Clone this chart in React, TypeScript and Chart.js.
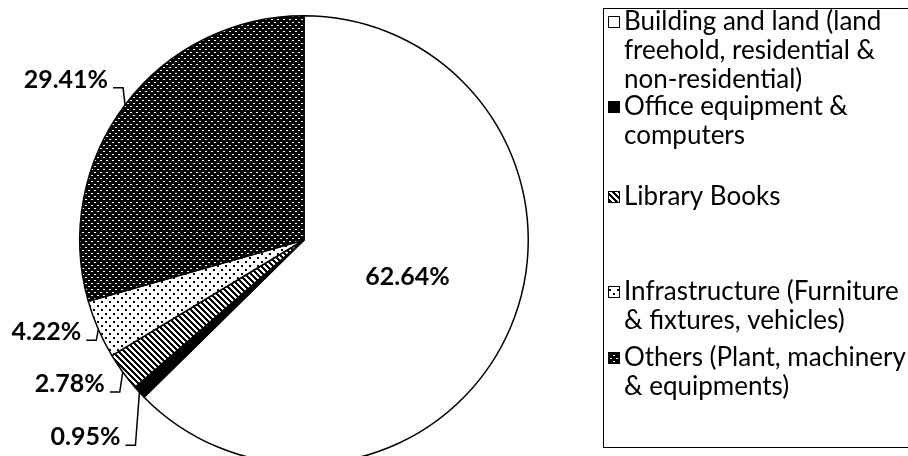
import React, { useEffect, useRef } from "react";
import { Chart, registerables } from "chart.js";

Chart.register(...registerables);

// ---------- data ----------
const categoryLines: string[][] = [
  ["Building and land (land", "freehold, residential &", "non-residential)"],
  ["Office equipment &", "computers"],
  ["Library Books"],
  ["Infrastructure (Furniture", "& fixtures, vehicles)"],
  ["Others (Plant, machinery", "& equipments)"],
];
const categories = categoryLines.map((l) => l.join(" "));
const shares = [62.64, 0.95, 2.78, 4.22, 29.41];
const shareLabels = ["62.64%", "0.95%", "2.78%", "4.22%", "29.41%"];

// ---------- layout / style constants ----------
const FONT = "Lato, 'Open Sans', sans-serif";
const LEGEND_FIRST_LINE_Y = [22, 107, 197, 292, 358];
const LEGEND_LINE_H = 29;
const LEADER_ELBOW: [number, number][] = [
  [0, 0],
  [-4, 53],
  [-3, 20],
  [-2, 11],
  [-2, -17],
];

type RGB = [number, number, number];
function makePattern(size: number, bg: RGB, fg: RGB, on: (x: number, y: number) => boolean): CanvasPattern | string {
  const c = document.createElement("canvas");
  c.width = size;
  c.height = size;
  const ctx = c.getContext("2d");
  if (!ctx) return "#888";
  const img = ctx.createImageData(size, size);
  for (let y = 0; y < size; y++) {
    for (let x = 0; x < size; x++) {
      const col = on(x, y) ? fg : bg;
      const k = (y * size + x) * 4;
      img.data[k] = col[0];
      img.data[k + 1] = col[1];
      img.data[k + 2] = col[2];
      img.data[k + 3] = 255;
    }
  }
  ctx.putImageData(img, 0, 0);
  return ctx.createPattern(c, "repeat") || "#888";
}

export default function App() {
  const ref = useRef<HTMLCanvasElement | null>(null);

  useEffect(() => {
    const canvas = ref.current;
    if (!canvas) return;
    const W: RGB = [255, 255, 255];
    const B: RGB = [0, 0, 0];
    const fills = [
      "#ffffff",
      "#000000",
      makePattern(6, W, B, (x, y) => ((x - y + 12) % 6) < 3),
      makePattern(8, W, B, (x, y) => (x % 4 === 1 || x % 4 === 2) && (((y === 1 || y === 2) && x < 4) || ((y === 5 || y === 6) && x >= 4))),
      makePattern(6, B, W, (x, y) => (x === 1 && y === 1) || (x === 4 && y === 4) || (x === 2 && y === 1) || (x === 5 && y === 4)),
    ];

    const bgPlugin = {
      id: "bg",
      beforeDraw(chart: any) {
        const c = chart.ctx;
        c.save();
        c.fillStyle = "#fff";
        c.fillRect(0, 0, chart.width, chart.height);
        c.restore();
      },
    };

    const labelsPlugin = {
      id: "pctLabels",
      afterDatasetsDraw(chart: any) {
        const c: CanvasRenderingContext2D = chart.ctx;
        const meta = chart.getDatasetMeta(0);
        c.save();
        c.font = `bold 25px ${FONT}`;
        c.fillStyle = "#000";
        c.strokeStyle = "#000";
        c.lineWidth = 1.5;
        meta.data.forEach((arc: any, i: number) => {
          const p = arc.getProps(["x", "y", "startAngle", "endAngle", "outerRadius"], true);
          const mid = (p.startAngle + p.endAngle) / 2;
          const cs = Math.cos(mid);
          const sn = Math.sin(mid);
          if (i === 0) {
            c.textAlign = "center";
            c.textBaseline = "middle";
            c.fillText(shareLabels[i], p.x + cs * p.outerRadius * 0.5, p.y + sn * p.outerRadius * 0.43);
            return;
          }
          const ax = p.x + cs * p.outerRadius;
          const ay = p.y + sn * p.outerRadius;
          const ex = ax + LEADER_ELBOW[i][0];
          const ey = ay + LEADER_ELBOW[i][1];
          c.beginPath();
          c.moveTo(ax, ay);
          c.lineTo(ex, ey);
          c.lineTo(ex - 10, ey);
          c.stroke();
          c.textAlign = "right";
          c.textBaseline = "alphabetic";
          c.fillText(shareLabels[i], ex - 15, ey);
        });
        c.restore();
      },
    };

    const legendPlugin = {
      id: "boxLegend",
      afterDraw(chart: any) {
        const c: CanvasRenderingContext2D = chart.ctx;
        c.save();
        c.strokeStyle = "#000";
        c.lineWidth = 1;
        c.strokeRect(603.5, 8.5, 420, 439);
        c.font = `26px ${FONT}`;
        c.fillStyle = "#000";
        c.textAlign = "left";
        c.textBaseline = "middle";
        categoryLines.forEach((lines, i) => {
          const y0 = LEGEND_FIRST_LINE_Y[i];
          c.fillStyle = fills[i] as any;
          c.fillRect(608, y0 - 6, 12, 12);
          c.strokeRect(608.5, y0 - 5.5, 11, 11);
          c.fillStyle = "#000";
          lines.forEach((t, j) => c.fillText(t, 624, y0 + j * LEGEND_LINE_H));
        });
        c.restore();
      },
    };

    const chart = new Chart(canvas, {
      type: "pie",
      data: {
        labels: categories,
        datasets: [
          {
            data: shares,
            backgroundColor: fills as any,
            borderColor: "#000",
            borderWidth: 1.5,
          },
        ],
      },
      options: {
        animation: false,
        responsive: false,
        events: [],
        layout: { padding: { left: 79, top: 15, right: 379, bottom: 15 } },
        plugins: {
          legend: { display: false },
          tooltip: { enabled: false },
        },
      },
      plugins: [bgPlugin, labelsPlugin, legendPlugin],
    });
    return () => chart.destroy();
  }, []);

  return (
    <div style={{ position: "fixed", left: 0, top: 0, width: 908, height: 456, overflow: "hidden", background: "#fff" }}>
      <canvas ref={ref} width={908} height={480} style={{ display: "block", width: 908, height: 480 }} />
    </div>
  );
}
